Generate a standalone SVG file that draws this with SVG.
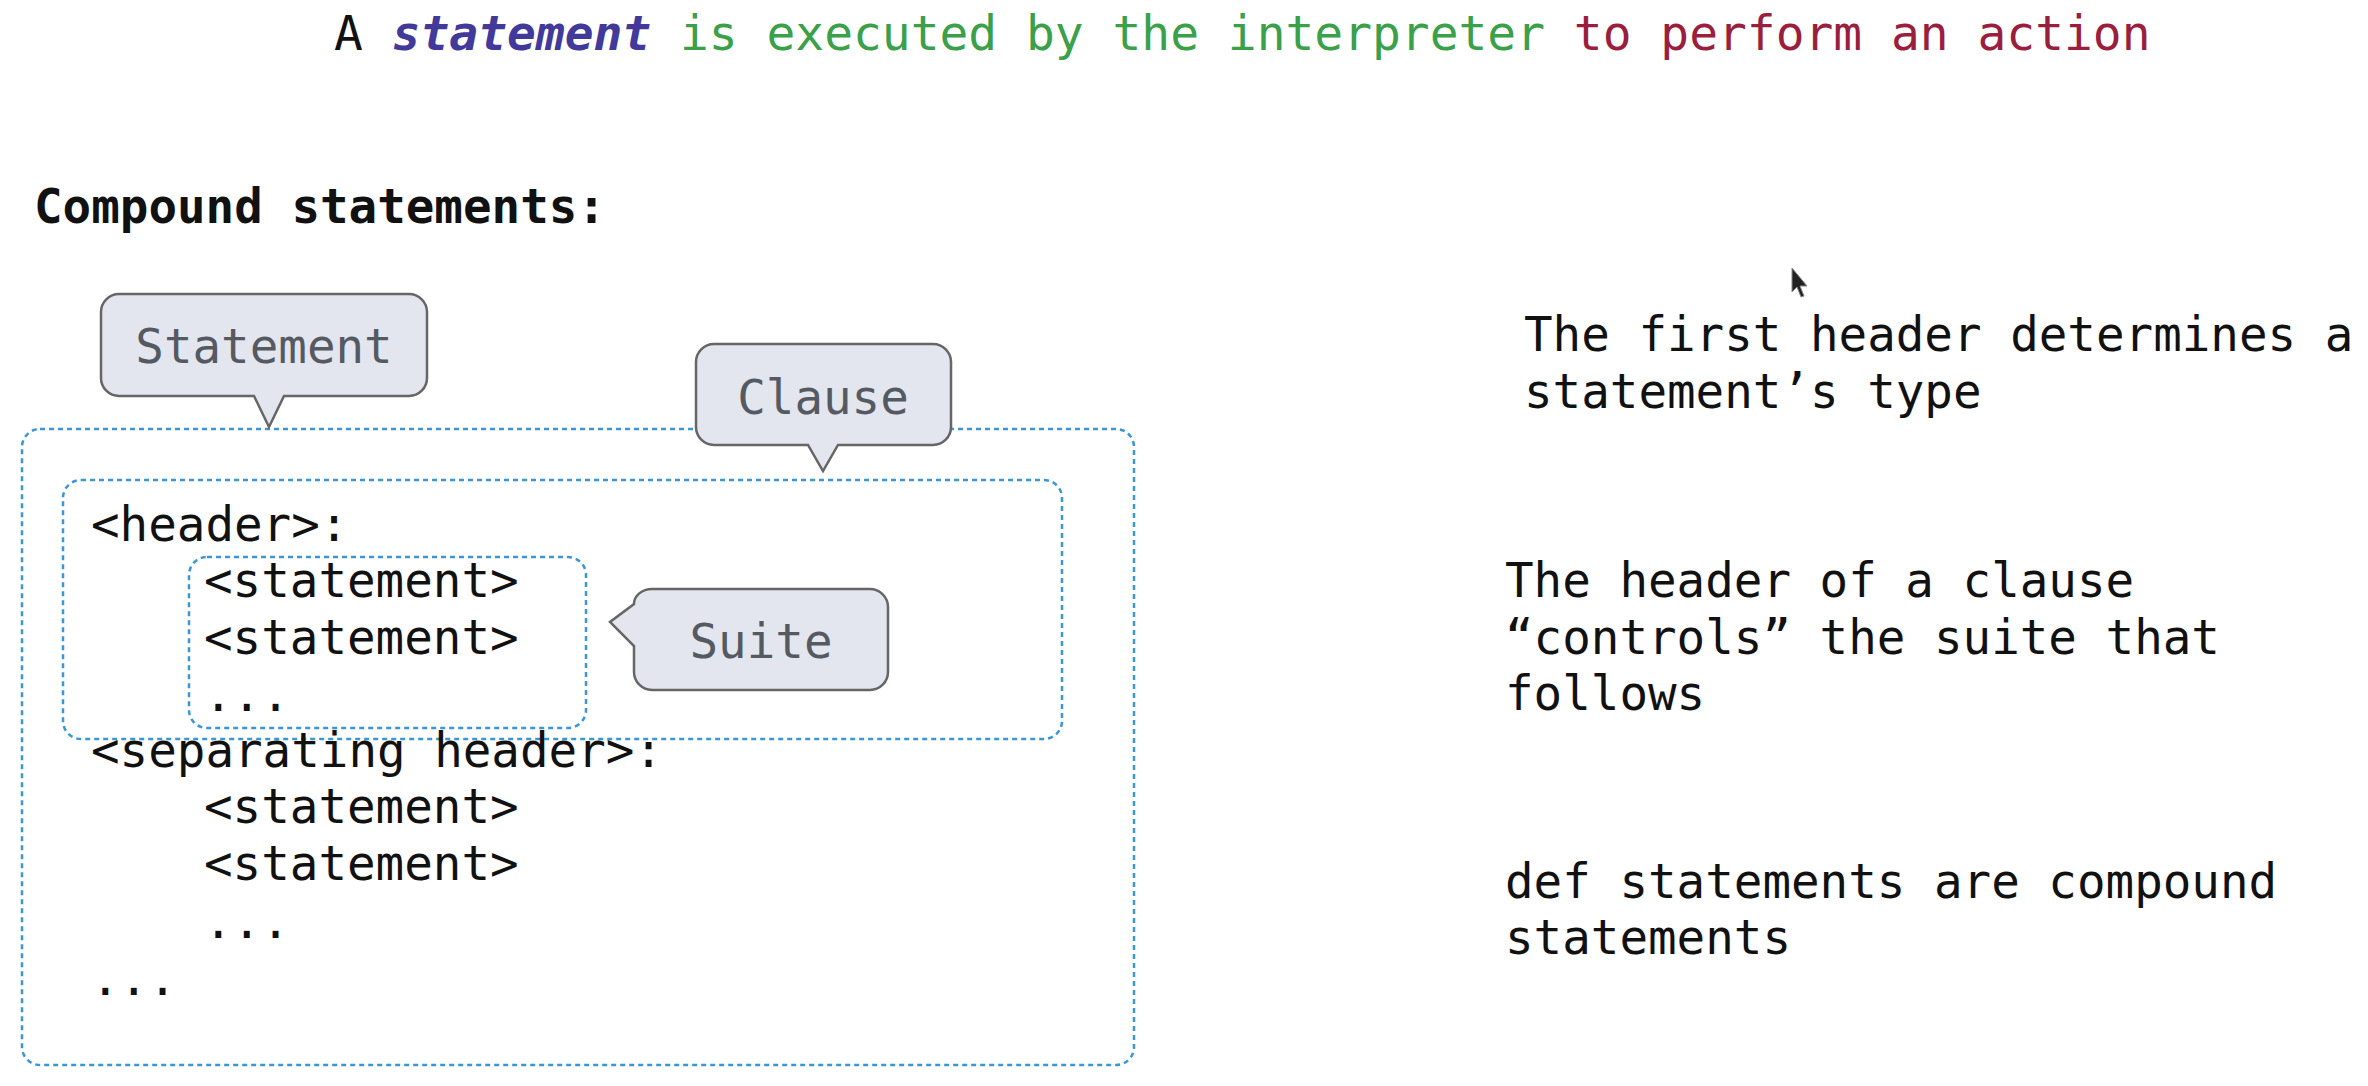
<svg xmlns="http://www.w3.org/2000/svg" width="2368" height="1086" viewBox="0 0 2368 1086">
<style>
text{font-family:"DejaVu Sans Mono","Liberation Mono",monospace;font-size:47.5px;fill:#111}
.b{font-weight:bold}
.bub{fill:#e3e6ee;stroke:#666;stroke-width:2.5}
.bt{fill:#555a62;text-anchor:middle}
.box{fill:none;stroke:#3a97d4;stroke-width:2.5;stroke-dasharray:5 4}
</style>
<rect width="2368" height="1086" fill="#fff"/>
<g id="title">
<text x="334" y="50" style="font-size:47.9px"><tspan>A </tspan><tspan class="b" font-style="italic" fill="#413a9a">statement</tspan><tspan fill="#3aa04a"> is executed by the interpreter</tspan><tspan fill="#9a1f3f"> to perform an action</tspan></text>
</g>
<g id="heading"><text class="b" x="34" y="223">Compound statements:</text></g>
<g id="connectors">
<rect id="statement-box" class="box" x="22" y="429" width="1112" height="636" rx="18"/>
<rect id="clause-box" class="box" x="63" y="480" width="999" height="259" rx="18"/>
<rect id="suite-box" class="box" x="189" y="557" width="397" height="171" rx="18"/>
</g>
<g id="code">
<text x="91" y="541">&lt;header&gt;:</text>
<text x="204" y="597">&lt;statement&gt;</text>
<text x="204" y="654">&lt;statement&gt;</text>
<text x="204" y="711">...</text>
<text x="91" y="767">&lt;separating header&gt;:</text>
<text x="204" y="823">&lt;statement&gt;</text>
<text x="204" y="880">&lt;statement&gt;</text>
<text x="204" y="938">...</text>
<text x="91" y="995">...</text>
</g>
<g id="statement-bubble">
<path class="bub" d="M119,294 H409 A18 18 0 0 1 427,312 V378 A18 18 0 0 1 409,396 H284 L269,427 L254,396 H119 A18 18 0 0 1 101,378 V312 A18 18 0 0 1 119,294 Z"/>
<text class="bt" x="264" y="363">Statement</text>
</g>
<g id="clause-bubble">
<path class="bub" d="M714,344 H933 A18 18 0 0 1 951,362 V427 A18 18 0 0 1 933,445 H838 L823,471 L808,445 H714 A18 18 0 0 1 696,427 V362 A18 18 0 0 1 714,344 Z"/>
<text class="bt" x="823" y="414">Clause</text>
</g>
<g id="suite-bubble">
<path class="bub" d="M652,589 H870 A18 18 0 0 1 888,607 V672 A18 18 0 0 1 870,690 H652 A18 18 0 0 1 634,672 V646 L610,622 L634,604 A18 15 0 0 1 652,589 Z"/>
<text class="bt" x="761" y="658">Suite</text>
</g>
<g id="notes">
<text x="1524" y="351">The first header determines a</text>
<text x="1524" y="408">statement’s type</text>
<text x="1505" y="597">The header of a clause</text>
<text x="1505" y="654">“controls” the suite that</text>
<text x="1505" y="710">follows</text>
<text x="1505" y="898">def statements are compound</text>
<text x="1505" y="954">statements</text>
</g>
<g id="cursor">
<path d="M1792,268 L1792,292 L1797,287 L1801,297 L1804,296 L1800,286 L1807,286 Z" fill="#222" stroke="#888" stroke-width="1"/>
</g>
</svg>
